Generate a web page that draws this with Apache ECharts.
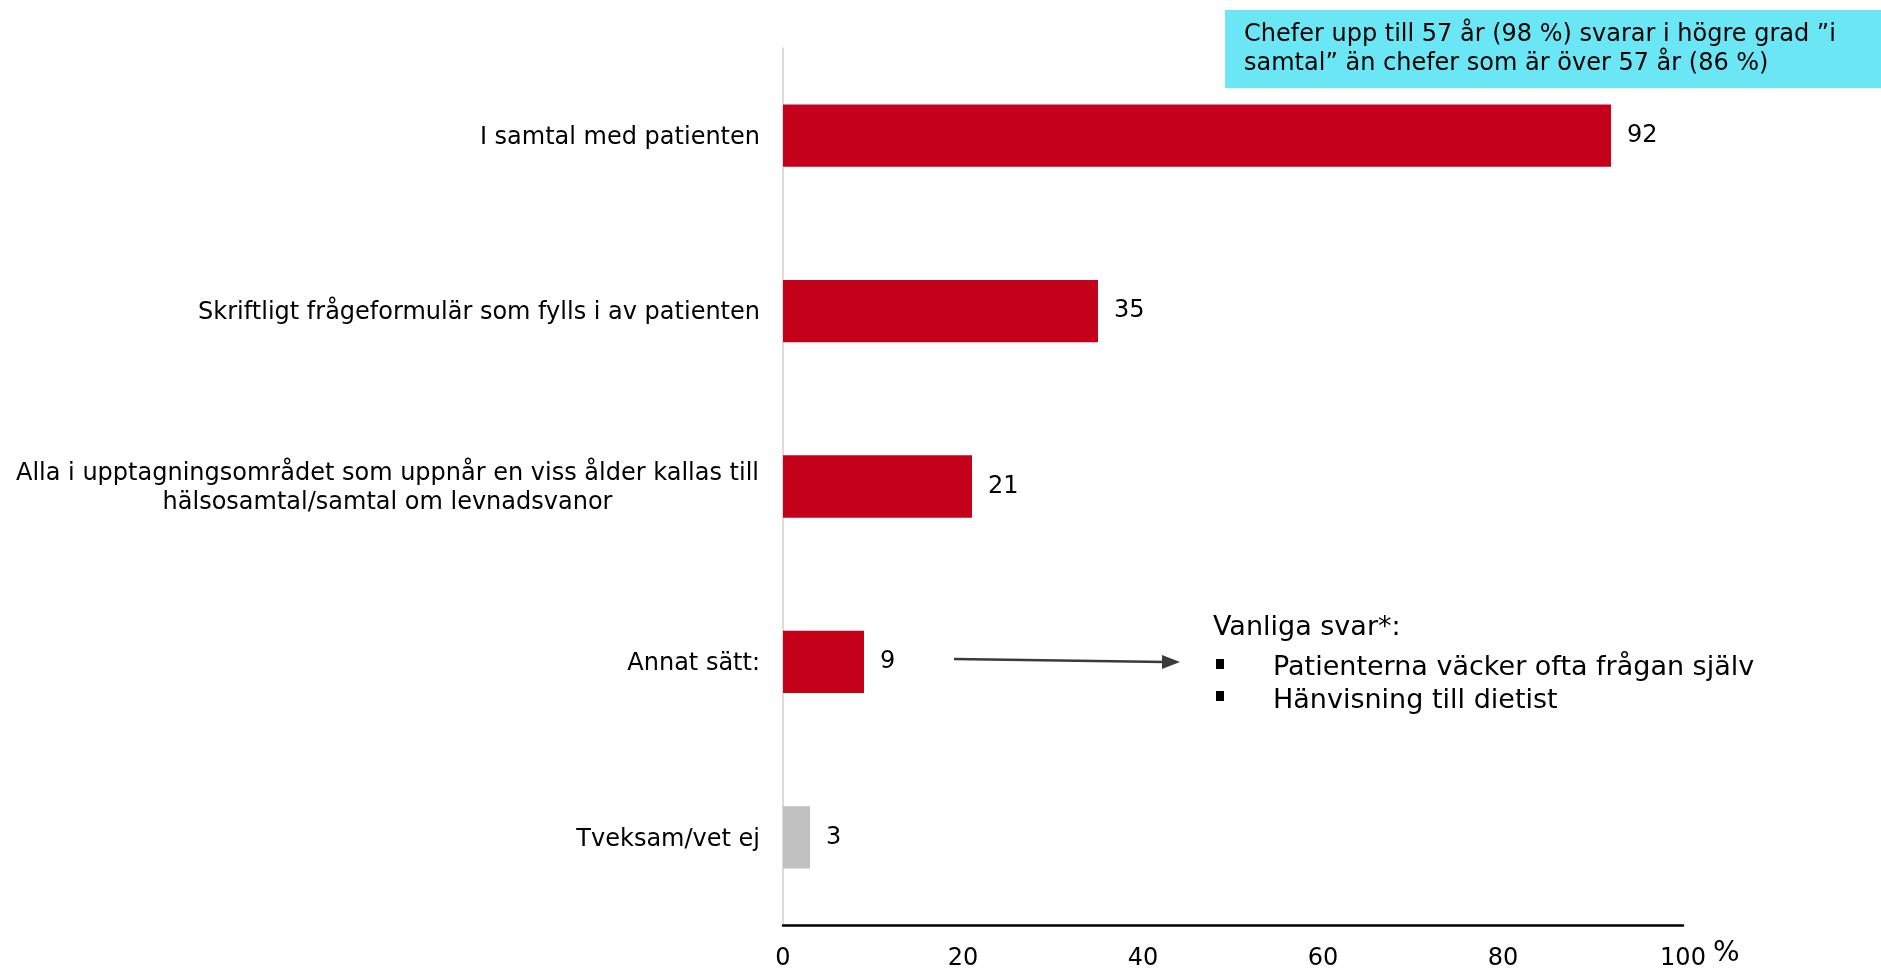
<!DOCTYPE html>
<html><head><meta charset="utf-8">
<script src="https://cdn.jsdelivr.net/npm/echarts@6/dist/echarts.min.js"></script>
<style>html,body{margin:0;padding:0;background:#fff}#c{width:1881px;height:971px}</style>
</head><body><div id="c"></div>
<script>
const categories = [
  "I samtal med patienten",
  "Skriftligt frågeformulär som fylls i av patienten",
  "Alla i upptagningsområdet som uppnår en viss ålder kallas till\nhälsosamtal/samtal om levnadsvanor",
  "Annat sätt:",
  "Tveksam/vet ej"
];
const values = [92, 35, 21, 9, 3];
const barColors = ["#c5001a", "#c5001a", "#c5001a", "#c5001a", "#c0c0c0"];
const xTicks = [0, 20, 40, 60, 80, 100];
const noteText = "Chefer upp till 57 år (98 %) svarar i högre grad ”i\nsamtal” än chefer som är över 57 år (86 %)";
const answersTitle = "Vanliga svar*:";
const answers = ["Patienterna väcker ofta frågan själv", "Hänvisning till dietist"];

const chart = echarts.init(document.getElementById('c'));
const FONT = "DejaVu Sans";
chart.setOption({
  animation: false,
  grid: { left: 783, right: 198, top: 48, bottom: 38, containLabel: false },
  xAxis: {
    type: 'value', min: 0, max: 100, interval: 20,
    axisLine: { show: true, lineStyle: { color: '#000', width: 2.5 } },
    axisTick: { show: false },
    splitLine: { show: false },
    axisLabel: { fontFamily: FONT, fontSize: 24, color: '#000', margin: 22,
      formatter: v => xTicks.includes(v) ? String(v) : '' }
  },
  yAxis: {
    type: 'category', data: categories, inverse: true,
    axisLine: { show: true, lineStyle: { color: '#d0d0d0', width: 1.5 } },
    axisTick: { show: false },
    axisLabel: { fontFamily: FONT, fontSize: 24, color: '#000', margin: 23, align: 'right', lineHeight: 29,
      padding: [4, 0, 0, 0],
      rich: { c: { width: 745, align: 'center', fontFamily: FONT, fontSize: 24, lineHeight: 29, color: '#000' } },
      formatter: (v) => v.indexOf('\n') >= 0 ? v.split('\n').map(l => '{c|' + l + '}').join('\n') : v }
  },
  series: [{
    type: 'bar', barWidth: '35.5%',
    data: values.map((v, i) => ({ value: v, itemStyle: { color: barColors[i] } })),
    label: { show: true, position: 'right', distance: 16, fontFamily: FONT, fontSize: 24, color: '#000', padding: [4, 0, 0, 0] }
  }],
  graphic: [
    { type: 'rect', left: 1225, top: 10, shape: { width: 656, height: 78 }, style: { fill: '#6ae6f5' } },
    { type: 'text', left: 1244, top: 20, style: { text: noteText, fontFamily: FONT, fontSize: 24, lineHeight: 29, fill: '#000' } },
    { type: 'text', left: 1713, top: 940, style: { text: '%', fontFamily: FONT, fontSize: 28, fill: '#000' } },
    { type: 'line', shape: { x1: 954, y1: 659, x2: 1165, y2: 662 }, style: { stroke: '#3a3a3a', lineWidth: 2.5 } },
    { type: 'polygon', shape: { points: [[1180, 662], [1162, 655], [1162, 669]] }, style: { fill: '#3a3a3a' } },
    { type: 'text', x: 1213, y: 628, style: { text: answersTitle, fontFamily: FONT, fontSize: 27, fill: '#000', textVerticalAlign: 'middle', verticalAlign: 'middle' } },
    { type: 'rect', left: 1216, top: 659, shape: { width: 8, height: 10 }, style: { fill: '#000' } },
    { type: 'rect', left: 1216, top: 691, shape: { width: 8, height: 10 }, style: { fill: '#000' } },
    { type: 'text', x: 1273, y: 668, style: { text: answers[0], fontFamily: FONT, fontSize: 27, fill: '#000', textVerticalAlign: 'middle', verticalAlign: 'middle' } },
    { type: 'text', x: 1273, y: 701, style: { text: answers[1], fontFamily: FONT, fontSize: 27, fill: '#000', textVerticalAlign: 'middle', verticalAlign: 'middle' } }
  ]
});
</script></body></html>
